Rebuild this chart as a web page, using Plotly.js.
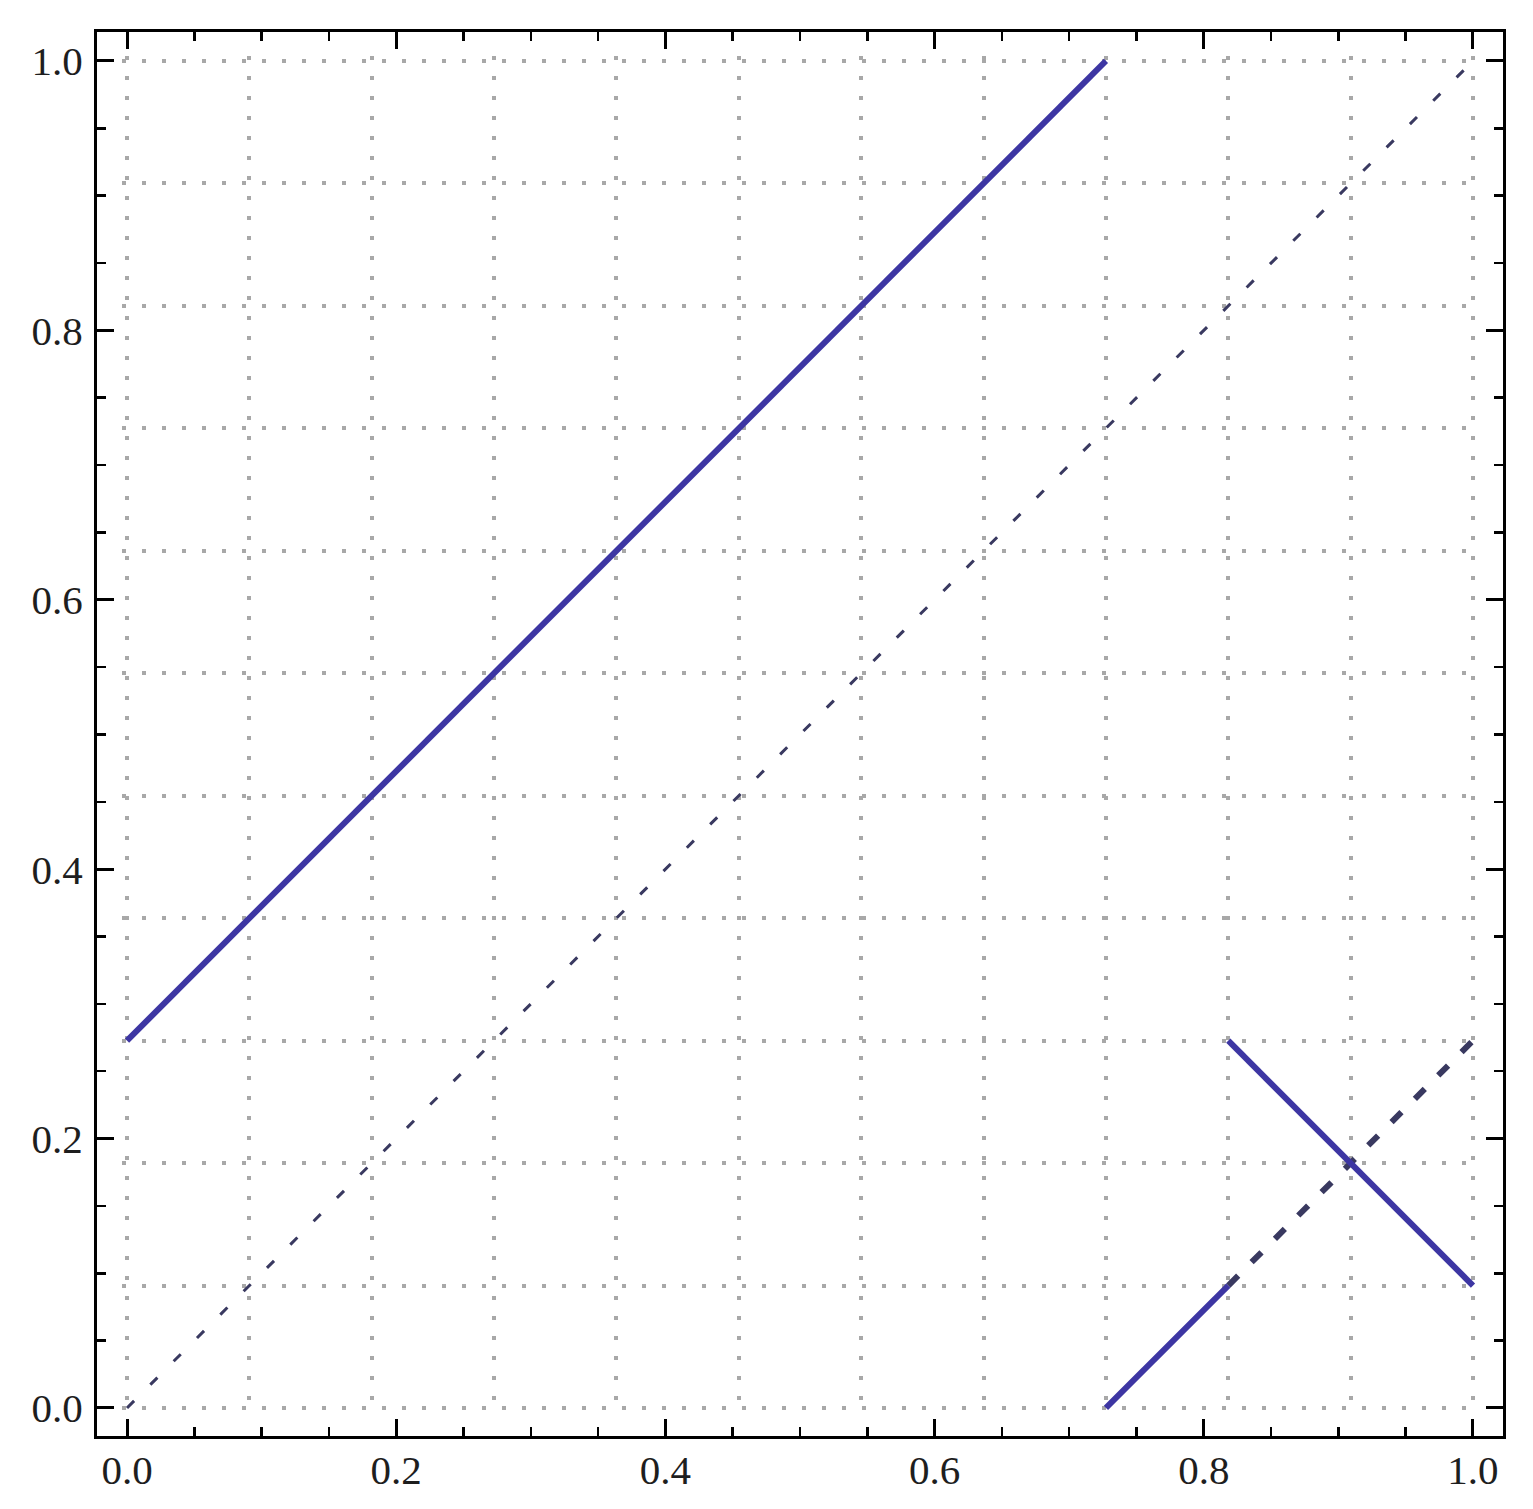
<!DOCTYPE html>
<html>
<head>
<meta charset="utf-8">
<script src="https://cdn.plot.ly/plotly-3.0.1.min.js"></script>
<style>
  body { margin: 0; background: #fff; }
  #plot { width: 1533px; height: 1509px; }
</style>
</head>
<body>
<div id="plot"></div>
<script>
// values
var gridVals = [0, 0.0909, 0.1818, 0.2727, 0.3636, 0.4545, 0.5455, 0.6364, 0.7273, 0.8182, 0.9091, 1];

var upperX = [0, 0.7273];
var upperY = [0.2727, 1];

var diagX = [0, 1];
var diagY = [0, 1];

var lowRiseX = [0.7273, 0.8182];
var lowRiseY = [0, 0.0909];

var lowDashX = [0.8182, 1];
var lowDashY = [0.0909, 0.2727];

var fallX = [0.8182, 1];
var fallY = [0.2727, 0.0909];

var solidColor = '#3d36a3';
var dashColor = '#393960';

// frame range (whole plot box) and inner range (grid only spans 0..1)
var frameX = [-0.0223, 1.0223];
var frameY = [-0.0208, 1.0215];
var innerX = [-0.004, 1.004];
var innerY = [-0.004, 1.004];

function domainOf(inner, frame) {
    var span = frame[1] - frame[0];
    return [(inner[0] - frame[0]) / span, (inner[1] - frame[0]) / span];
}

var traces = [
    {x: diagX, y: diagY, mode: 'lines', line: {color: dashColor, width: 3, dash: '10px,23px'}},
    {x: lowDashX, y: lowDashY, mode: 'lines', line: {color: dashColor, width: 6, dash: '14px,19px'}},
    {x: upperX, y: upperY, mode: 'lines', line: {color: solidColor, width: 6}},
    {x: lowRiseX, y: lowRiseY, mode: 'lines', line: {color: solidColor, width: 6}},
    {x: fallX, y: fallY, mode: 'lines', line: {color: solidColor, width: 6}},
    // empty trace so the frame axes get their own subplot
    {x: [], y: [], mode: 'lines', xaxis: 'x2', yaxis: 'y2', hoverinfo: 'skip'}
];

var tickFont = {family: '"Liberation Serif", "Times New Roman", serif', size: 41, color: '#1e1e1e'};

// inner axes carry the dotted grid and the lines
var gridAxis = {
    tickvals: gridVals,
    showticklabels: false,
    ticks: '',
    showgrid: true,
    gridcolor: '#a8a8a8',
    gridwidth: 4,
    griddash: '4px,16px',
    zeroline: false,
    showline: false
};

// frame axes draw the box, ticks and labels
var frameAxis = {
    domain: [0, 1],
    dtick: 0.2,
    tick0: 0,
    tickformat: '.1f',
    ticks: 'inside',
    ticklen: 17,
    tickwidth: 3,
    tickcolor: '#000',
    minor: {dtick: 0.05, ticks: 'inside', ticklen: 9, tickwidth: 2.5, tickcolor: '#000', showgrid: false},
    showline: true,
    linecolor: '#000',
    linewidth: 3,
    mirror: 'ticks',
    showgrid: false,
    zeroline: false,
    tickfont: tickFont
};

var layout = {
    width: 1533,
    height: 1509,
    margin: {l: 97, r: 30, t: 32, b: 73},
    paper_bgcolor: '#fff',
    plot_bgcolor: 'rgba(0,0,0,0)',
    showlegend: false,
    xaxis: Object.assign({}, gridAxis, {range: innerX, domain: domainOf(innerX, frameX), anchor: 'y'}),
    yaxis: Object.assign({}, gridAxis, {range: innerY, domain: domainOf(innerY, frameY), anchor: 'x'}),
    xaxis2: Object.assign({}, frameAxis, {range: frameX, anchor: 'y2', side: 'bottom', ticklabelstandoff: -4}),
    yaxis2: Object.assign({}, frameAxis, {range: frameY, anchor: 'x2', side: 'left', ticklabelstandoff: 3})
};

Plotly.newPlot('plot', traces, layout, {staticPlot: true});
</script>
</body>
</html>
